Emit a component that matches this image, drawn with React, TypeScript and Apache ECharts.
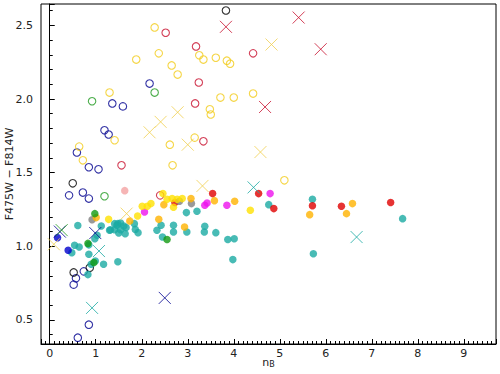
import React, { useEffect, useRef } from "react";
import * as echarts from "echarts";

type P = [number, number];

const blueOpen: P[] = [
  [2.17, 2.105], [1.36, 1.97], [1.59, 1.95], [1.19, 1.788], [1.28, 1.759], [0.59, 1.637],
  [0.85, 1.537], [1.06, 1.523], [0.42, 1.346], [0.72, 1.365], [0.85, 1.324], [0.74, 0.83],
  [0.57, 0.783], [0.52, 0.74], [0.85, 0.468], [0.61, 0.38],
];
const blackOpen: P[] = [[3.83, 2.601], [0.5, 1.428], [0.87, 0.855], [0.52, 0.823]];
const yellowOpen: P[] = [
  [2.28, 2.486], [2.37, 2.31], [3.25, 2.297], [3.34, 2.268], [3.61, 2.28], [1.88, 2.268],
  [3.85, 2.26], [3.92, 2.24], [2.65, 2.228], [2.78, 2.166], [1.3, 2.044], [3.71, 2.01],
  [4.0, 2.01], [3.48, 1.93], [3.5, 1.895], [1.41, 1.72], [3.15, 1.738], [2.61, 1.69],
  [0.64, 1.677], [0.72, 1.584], [2.67, 1.55], [4.42, 2.037], [5.1, 1.448],
];
const redOpen: P[] = [
  [2.52, 2.45], [3.18, 2.357], [3.24, 2.112], [3.16, 1.97], [3.34, 1.713], [1.56, 1.55],
  [4.42, 2.31], [2.4, 1.346],
];
const greenOpen: P[] = [[2.28, 2.044], [0.92, 1.985], [1.19, 1.34]];

const tealFilled: P[] = [
  [0.61, 1.141], [1.12, 1.138], [0.54, 1.007], [0.64, 0.995], [0.48, 0.957], [0.85, 1.01],
  [0.85, 0.946], [0.9, 0.878], [0.99, 0.9], [0.83, 0.808], [1.17, 0.878], [1.48, 0.895],
  [1.03, 1.075], [0.98, 1.052], [1.3, 1.109], [1.48, 1.154], [1.54, 1.158], [1.46, 1.143],
  [1.61, 1.138], [1.41, 1.113], [1.66, 1.127], [1.54, 1.113], [1.5, 1.09], [1.64, 1.086],
  [1.84, 1.154], [1.86, 1.115], [1.92, 1.093], [2.42, 1.143], [2.33, 1.109], [2.45, 1.063],
  [2.69, 1.143], [2.69, 1.097], [2.98, 1.097], [2.97, 1.229], [3.2, 1.238], [3.37, 1.136],
  [3.36, 1.097], [3.61, 1.093], [3.87, 1.046], [4.01, 1.052], [3.98, 0.91], [4.76, 1.283],
  [5.71, 1.319], [7.67, 1.188], [5.73, 0.95], [1.32, 1.113], [1.41, 1.154],
];
const redFilled: P[] = [
  [2.72, 1.297], [3.54, 1.358], [4.54, 1.358], [4.87, 1.256], [5.71, 1.276], [6.34, 1.272], [7.41, 1.297],
];
const grayFilled: P[] = [[0.92, 1.181], [2.82, 1.306], [3.08, 1.29]];
const magentaFilled: P[] = [[2.06, 1.233], [3.37, 1.279], [3.42, 1.294], [3.85, 1.279], [4.79, 1.358]];
const orangeFilled: P[] = [
  [2.48, 1.283], [1.74, 1.172], [2.37, 1.183], [2.93, 1.131], [3.07, 1.324], [3.58, 1.31],
  [4.02, 1.306], [5.65, 1.215], [6.58, 1.29], [6.45, 1.222], [1.01, 1.195],
];
const yellowFilled: P[] = [
  [2.46, 1.358], [2.55, 1.319], [2.66, 1.324], [2.69, 1.265], [2.2, 1.29], [2.12, 1.272],
  [2.01, 1.272], [1.91, 1.206], [1.28, 1.183], [2.77, 1.319], [2.88, 1.324], [4.36, 1.245],
];
const pinkFilled: P[] = [[1.63, 1.378]];
const greenFilled: P[] = [[0.98, 1.222], [2.55, 1.046], [0.83, 1.02], [0.96, 0.89]];
const blueFilled: P[] = [[0.17, 1.059], [0.4, 0.973]];

const redCross: P[] = [[3.83, 2.49], [5.41, 2.553], [5.89, 2.338], [4.68, 1.946]];
const yellowCross: P[] = [
  [4.82, 2.37], [2.78, 1.91], [2.41, 1.845], [2.17, 1.774], [3.0, 1.69], [4.58, 1.64],
  [3.32, 1.41], [1.67, 1.222], [0.09, 1.014],
];
const navyCross: P[] = [[0.22, 1.1], [0.99, 1.09], [2.5, 0.65]];
const tealCross: P[] = [[4.43, 1.4], [1.07, 0.968], [0.92, 0.582], [6.67, 1.063]];
const greenCross: P[] = [[0.26, 1.11]];

const X_MIN = -0.19;
const X_MAX = 9.7;
const Y_MIN = 0.337;
const Y_MAX = 2.645;

const CROSS = "path://M0,0L10,10M10,0L0,10";

function openSeries(data: P[], color: string) {
  return {
    type: "scatter", data, symbol: "circle", symbolSize: 7.5,
    itemStyle: { color: "none", borderColor: color, borderWidth: 1.1 },
  };
}
function filledSeries(data: P[], color: string) {
  return { type: "scatter", data, symbol: "circle", symbolSize: 7.5, itemStyle: { color } };
}
function crossSeries(data: P[], color: string) {
  return {
    type: "scatter", data, symbol: CROSS, symbolSize: 12,
    itemStyle: { color: "none", borderColor: color, borderWidth: 1 },
  };
}

export default function App() {
  const ref = useRef<HTMLDivElement>(null);
  useEffect(() => {
    if (!ref.current) return;
    const chart = echarts.init(ref.current, undefined, { renderer: "svg" });
    const font = "DejaVu Sans";
    chart.setOption({
      animation: false,
      backgroundColor: "#fff",
      grid: {
        left: 41, right: 4, top: 4, bottom: 30, containLabel: false, outerBoundsMode: "none",
        show: true, borderColor: "#000", borderWidth: 1, backgroundColor: "transparent",
      },
      xAxis: {
        type: "value", min: X_MIN, max: X_MAX, splitNumber: 10,
        name: "n{b|B}", nameLocation: "middle", nameGap: 12, nameMoveOverlap: false,
        nameTextStyle: { fontFamily: font, fontSize: 11, color: "#222", rich: { b: { fontFamily: font, fontSize: 8, color: "#222", padding: [4, 0, 0, 0] } } },
        axisLine: { lineStyle: { color: "#000", width: 1 } },
        axisTick: { inside: true, length: 5, lineStyle: { color: "#000" } },
        minorTick: { show: true, splitNumber: 10, length: 3, lineStyle: { color: "#000" } },
        axisLabel: {
          fontFamily: font, fontSize: 11, color: "#222", margin: 4,
          formatter: (v: number) => (Math.abs(v - Math.round(v)) < 1e-6 ? String(Math.round(v)) : ""),
        },
        splitLine: { show: false },
      },
      yAxis: {
        type: "value", min: Y_MIN, max: Y_MAX,
        name: "F475W − F814W", nameLocation: "middle", nameGap: 26, nameRotate: 90, nameMoveOverlap: false,
        nameTextStyle: { fontFamily: font, fontSize: 11, color: "#222" },
        axisLine: { lineStyle: { color: "#000", width: 1 } },
        axisTick: { inside: true, length: 5, lineStyle: { color: "#000" } },
        minorTick: { show: true, splitNumber: 5, length: 3, lineStyle: { color: "#000" } },
        axisLabel: {
          fontFamily: font, fontSize: 11, color: "#222", margin: 8,
          formatter: (v: number) => (Math.abs(v * 2 - Math.round(v * 2)) < 1e-6 ? v.toFixed(1) : ""),
        },
        splitLine: { show: false },
      },
      series: [
        openSeries(blueOpen, "#00008f"),
        openSeries(blackOpen, "#000000"),
        openSeries(yellowOpen, "#f2cc1a"),
        openSeries(redOpen, "#c8102e"),
        openSeries(greenOpen, "#1f9a1f"),
        filledSeries(tealFilled, "#1aaaa2"),
        filledSeries(redFilled, "#e00000"),
        filledSeries(grayFilled, "#808080"),
        filledSeries(magentaFilled, "#ee11ee"),
        filledSeries(orangeFilled, "#ffb300"),
        filledSeries(yellowFilled, "#ffe100"),
        filledSeries(pinkFilled, "#f4a3a3"),
        filledSeries(greenFilled, "#129a12"),
        filledSeries(blueFilled, "#0000cc"),
        crossSeries(redCross, "#c8102e"),
        crossSeries(yellowCross, "#f0d050"),
        crossSeries(navyCross, "#00008f"),
        crossSeries(tealCross, "#1aaaa2"),
        crossSeries(greenCross, "#1f9a1f"),
      ],
    });
    return () => chart.dispose();
  }, []);
  return <div ref={ref} style={{ position: "fixed", left: 0, top: 0, width: 500, height: 374 }} />;
}
